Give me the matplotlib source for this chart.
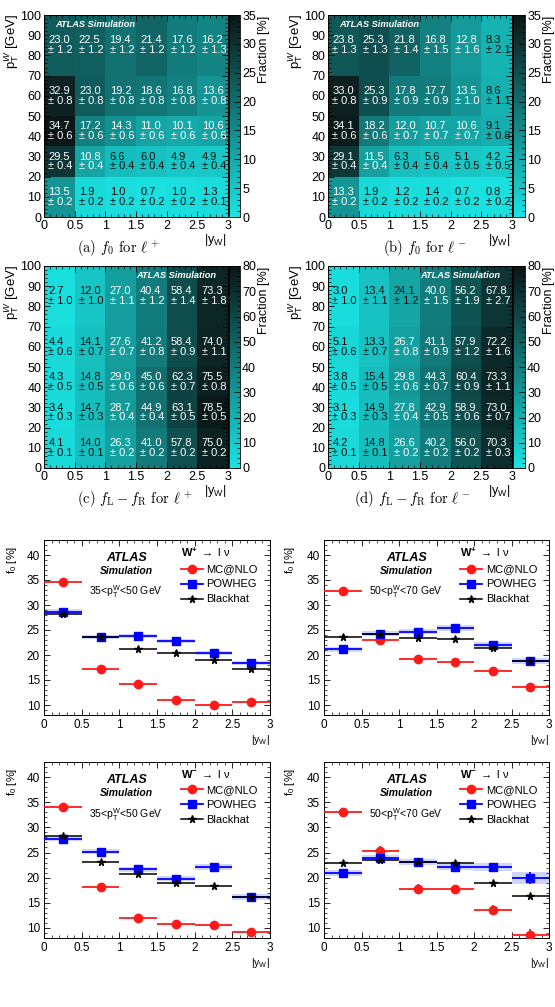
import numpy as np
import matplotlib
matplotlib.use("Agg")
import matplotlib.pyplot as plt
from matplotlib.colors import LinearSegmentedColormap
from matplotlib.ticker import MultipleLocator, FuncFormatter
from matplotlib.lines import Line2D

plt.rcParams['font.family'] = ['Liberation Sans', 'DejaVu Sans']
plt.rcParams['mathtext.fontset'] = 'custom'
plt.rcParams['mathtext.rm'] = 'Liberation Sans'
plt.rcParams['mathtext.it'] = 'Liberation Sans:italic'
plt.rcParams['mathtext.bf'] = 'Liberation Sans:bold'

# ---------------- data ----------------
yw_edges = [0, 0.5, 1, 1.5, 2, 2.5, 3]
pt_edges = [0, 20, 35, 50, 70, 100]

# rows: pT bins from bottom to top; columns: |y_W| bins
f0_lplus = [[13.5, 1.9, 1.0, 0.7, 1.0, 1.3],
            [29.5, 10.8, 6.6, 6.0, 4.9, 4.9],
            [34.7, 17.2, 14.3, 11.0, 10.1, 10.6],
            [32.9, 23.0, 19.2, 18.6, 16.8, 13.6],
            [23.0, 22.5, 19.4, 21.4, 17.6, 16.2]]
f0_lplus_err = [[0.2, 0.2, 0.2, 0.2, 0.2, 0.1],
                [0.4, 0.4, 0.4, 0.4, 0.4, 0.4],
                [0.6, 0.6, 0.6, 0.6, 0.6, 0.6],
                [0.8, 0.8, 0.8, 0.8, 0.8, 0.8],
                [1.2, 1.2, 1.2, 1.2, 1.2, 1.3]]

f0_lminus = [[13.3, 1.9, 1.2, 1.4, 0.7, 0.8],
             [29.1, 11.5, 6.3, 5.6, 5.1, 4.2],
             [34.1, 18.2, 12.0, 10.7, 10.6, 9.1],
             [33.0, 25.3, 17.8, 17.7, 13.5, 8.6],
             [23.8, 25.3, 21.8, 16.8, 12.8, 8.3]]
f0_lminus_err = [[0.2, 0.2, 0.2, 0.2, 0.2, 0.2],
                 [0.4, 0.4, 0.4, 0.4, 0.5, 0.5],
                 [0.6, 0.6, 0.7, 0.7, 0.7, 0.8],
                 [0.8, 0.9, 0.9, 0.9, 1.0, 1.1],
                 [1.3, 1.3, 1.4, 1.5, 1.6, 2.1]]

fLR_lplus = [[4.1, 14.0, 26.3, 41.0, 57.8, 75.0],
             [3.4, 14.7, 28.7, 44.9, 63.1, 78.5],
             [4.3, 14.8, 29.0, 45.0, 62.3, 75.5],
             [4.4, 14.1, 27.6, 41.2, 58.4, 74.0],
             [2.7, 12.0, 27.0, 40.4, 58.4, 73.3]]
fLR_lplus_err = [[0.1, 0.1, 0.2, 0.2, 0.2, 0.2],
                 [0.3, 0.3, 0.4, 0.4, 0.5, 0.5],
                 [0.5, 0.5, 0.6, 0.6, 0.7, 0.8],
                 [0.6, 0.7, 0.7, 0.8, 0.9, 1.1],
                 [1.0, 1.0, 1.1, 1.2, 1.4, 1.8]]

fLR_lminus = [[4.2, 14.8, 26.6, 40.2, 56.0, 70.3],
              [3.1, 14.9, 27.8, 42.9, 58.9, 73.0],
              [3.8, 15.4, 29.8, 44.3, 60.4, 73.3],
              [5.1, 13.3, 26.7, 41.1, 57.9, 72.2],
              [3.0, 13.4, 24.1, 40.0, 56.2, 67.8]]
fLR_lminus_err = [[0.1, 0.1, 0.2, 0.2, 0.2, 0.3],
                  [0.3, 0.3, 0.4, 0.5, 0.6, 0.7],
                  [0.5, 0.5, 0.6, 0.7, 0.9, 1.1],
                  [0.6, 0.7, 0.8, 0.9, 1.2, 1.6],
                  [1.0, 1.1, 1.2, 1.5, 1.9, 2.7]]

# f0 comparison panels
mc_wp_35 = [34.7, 17.2, 14.3, 11.0, 10.1, 10.6]
mc_wp_35_err = [0.6, 0.6, 0.6, 0.6, 0.6, 0.6]
pw_wp_35 = [28.7, 23.7, 23.9, 22.8, 20.5, 18.5]
pw_wp_35_err = [0.5, 0.4, 0.4, 0.4, 0.4, 0.4]
bh_wp_35 = [28.3, 23.6, 21.3, 20.5, 19.0, 17.2]
bh_wp_35_err = [0.2, 0.2, 0.2, 0.2, 0.2, 0.2]

mc_wp_50 = [32.9, 23.0, 19.2, 18.6, 16.8, 13.6]
mc_wp_50_err = [0.8, 0.8, 0.8, 0.8, 0.8, 0.8]
pw_wp_50 = [21.2, 24.3, 24.7, 25.5, 22.0, 18.8]
pw_wp_50_err = [0.5, 0.5, 0.5, 0.6, 0.6, 0.6]
bh_wp_50 = [23.7, 24.3, 23.5, 23.3, 21.5, 18.9]
bh_wp_50_err = [0.2, 0.2, 0.2, 0.2, 0.3, 0.3]

mc_wm_35 = [34.1, 18.2, 12.0, 10.7, 10.6, 9.1]
mc_wm_35_err = [0.6, 0.6, 0.7, 0.7, 0.7, 0.8]
pw_wm_35 = [27.7, 25.2, 21.7, 19.8, 22.1, 16.1]
pw_wm_35_err = [0.5, 0.5, 0.5, 0.5, 0.6, 0.6]
bh_wm_35 = [28.2, 23.1, 20.8, 19.0, 18.4, 16.1]
bh_wm_35_err = [0.2, 0.2, 0.2, 0.2, 0.2, 0.2]

mc_wm_50 = [33.0, 25.3, 17.8, 17.7, 13.5, 8.6]
mc_wm_50_err = [0.8, 0.9, 0.9, 0.9, 1.0, 1.1]
pw_wm_50 = [21.0, 23.9, 23.1, 22.2, 22.1, 19.9]
pw_wm_50_err = [0.6, 0.6, 0.6, 0.7, 0.8, 1.2]
bh_wm_50 = [22.9, 23.6, 23.2, 23.0, 18.9, 16.3]
bh_wm_50_err = [0.2, 0.2, 0.2, 0.2, 0.3, 0.3]

# ---------------- layout ----------------
W, H = 555, 1007
fig = plt.figure(figsize=(W / 100, H / 100), dpi=100)


def rect(l, t, r, b):
    return [l / W, 1 - b / H, (r - l) / W, (b - t) / H]


cmap = LinearSegmentedColormap.from_list('atlas_cyan', ['#1ae4e4', '#0b1515'])
fmt_g = FuncFormatter(lambda v, p: '%g' % v)


def heatmap(axr, caxr, vals, errs, vmax, cmaj, cmin, thr, atlas_x, caption, cap_x, frac_x, lab_x):
    ax = fig.add_axes(rect(*axr))
    cax = fig.add_axes(rect(*caxr))
    v = np.array(vals)
    e = np.array(errs)
    mesh = ax.pcolormesh(yw_edges, pt_edges, v, cmap=cmap, vmin=0, vmax=vmax)
    ax.set_xlim(0, 3)
    ax.set_ylim(0, 100)
    xc = 0.5 * (np.array(yw_edges[:-1]) + np.array(yw_edges[1:]))
    yc = 0.5 * (np.array(pt_edges[:-1]) + np.array(pt_edges[1:]))
    for i in range(v.shape[0]):
        for j in range(v.shape[1]):
            col = 'white' if v[i, j] >= thr else '#101010'
            ax.text(xc[j] + 0.02, yc[i], '%.1f\n\u00b1 %.1f' % (v[i, j], e[i, j]),
                    ha='center', va='center', multialignment='left',
                    fontsize=8, color=col, linespacing=0.98)
    ax.text(atlas_x, 95.3, 'ATLAS Simulation', color='white', fontsize=6.7,
            fontweight='bold', fontstyle='italic', ha='left', va='center')
    ax.xaxis.set_major_locator(MultipleLocator(0.5))
    ax.xaxis.set_minor_locator(MultipleLocator(0.1))
    ax.yaxis.set_major_locator(MultipleLocator(10))
    ax.yaxis.set_minor_locator(MultipleLocator(2))
    ax.xaxis.set_major_formatter(fmt_g)
    ax.tick_params(which='both', direction='in', top=True, right=True, labelsize=9, pad=2)
    ax.tick_params(which='major', length=4, width=0.6)
    ax.tick_params(which='minor', length=2, width=0.5)
    for s in ax.spines.values():
        s.set_linewidth(0.7)
    cb = fig.colorbar(mesh, cax=cax)
    cb.outline.set_linewidth(0.6)
    cax.yaxis.set_major_locator(MultipleLocator(cmaj))
    cax.yaxis.set_minor_locator(MultipleLocator(cmin))
    cax.tick_params(which='both', direction='in', right=True, left=False, labelsize=9, pad=1.5)
    cax.tick_params(which='major', length=4, width=0.6)
    cax.tick_params(which='minor', length=2, width=0.5)
    top = axr[1]
    bot = axr[3]
    fig.text(frac_x / W, 1 - (top + 1) / H, 'Fraction [%]', rotation=90, ha='center', va='top', fontsize=9)
    fig.text(lab_x / W, 1 - (top - 1) / H, r'p$_{\mathrm{T}}^{W}$ [GeV]', rotation=90, ha='center', va='top', fontsize=9.5)
    fig.text((axr[2] - 2) / W, 1 - (bot + 23) / H, r'|y$_{\mathrm{W}}$|', ha='right', va='center', fontsize=9)
    fig.text(cap_x / W, 1 - (bot + 31) / H, caption, ha='center', va='center', fontsize=10.5,
             fontfamily='cmr10', math_fontfamily='cm')


heatmap((44, 15, 228, 217), (229, 15, 240, 217), f0_lplus, f0_lplus_err, 35, 5, 1, 10, 0.18,
        r'(a) $f_0$ for $\ell^+$', 118, 264, 12)
heatmap((328, 15, 512, 217), (513, 15, 525, 217), f0_lminus, f0_lminus_err, 35, 5, 1, 10, 0.18,
        r'(b) $f_0$ for $\ell^-$', 425, 549, 296)
heatmap((44, 266, 228, 468), (229, 266, 240, 468), fLR_lplus, fLR_lplus_err, 80, 10, 2, 25, 1.5,
        r'(c) $f_{\rm L}-f_{\rm R}$ for $\ell^+$', 135, 264, 12)
heatmap((328, 266, 512, 468), (513, 266, 525, 468), fLR_lminus, fLR_lminus_err, 80, 10, 2, 25, 1.5,
        r'(d) $f_{\rm L}-f_{\rm R}$ for $\ell^-$', 412, 549, 296)


def f0panel(axr, mc, mce, pw, pwe, bh, bhe, header, ptlab, ylab_x):
    ax = fig.add_axes(rect(*axr))
    xc = 0.5 * (np.array(yw_edges[:-1]) + np.array(yw_edges[1:]))
    xe = 0.5 * (np.array(yw_edges[1:]) - np.array(yw_edges[:-1]))
    pw = np.array(pw)
    pwe = np.array(pwe)
    ax.bar(xc, 2 * pwe, bottom=pw - pwe, width=2 * xe, color='#bcc4ff', alpha=0.7, lw=0, zorder=1)
    ax.errorbar(xc, mc, xerr=xe, yerr=mce, fmt='o', color='#ff1a1a', ms=6, elinewidth=1.3,
                capsize=0, zorder=3)
    ax.errorbar(xc, pw, xerr=xe, yerr=pwe, fmt='s', color='#0000ff', ms=6, elinewidth=1.3,
                capsize=0, zorder=4)
    ax.errorbar(xc, bh, xerr=xe, yerr=bhe, fmt='*', color='black', ms=5.5, elinewidth=1.1,
                capsize=0, zorder=5)
    ax.set_xlim(0, 3)
    ax.set_ylim(8, 43)
    ax.xaxis.set_major_locator(MultipleLocator(0.5))
    ax.xaxis.set_minor_locator(MultipleLocator(0.1))
    ax.yaxis.set_major_locator(MultipleLocator(5))
    ax.yaxis.set_minor_locator(MultipleLocator(1))
    ax.xaxis.set_major_formatter(fmt_g)
    ax.tick_params(which='both', direction='in', top=True, right=True, labelsize=8.5, pad=3)
    ax.tick_params(which='major', length=4, width=0.6)
    ax.tick_params(which='minor', length=2, width=0.5)
    for s in ax.spines.values():
        s.set_linewidth(0.7)
    ax.text(1.1, 39.4, 'ATLAS', fontsize=9, fontweight='bold', fontstyle='italic', ha='center', va='center')
    ax.text(1.1, 36.8, 'Simulation', fontsize=7.5, fontweight='bold', fontstyle='italic', ha='center', va='center')
    ax.text(0.6, 32.6, ptlab, fontsize=7.5, ha='left', va='center')
    handles = [Line2D([], [], color='#ff1a1a', marker='o', ms=6, lw=1.3),
               Line2D([], [], color='#0000ff', marker='s', ms=6, lw=1.3),
               Line2D([], [], color='black', marker='*', ms=5.5, lw=1.1)]
    ax.legend(handles, ['MC@NLO', 'POWHEG', 'Blackhat'], loc='upper left',
              bbox_to_anchor=(0.605, 0.965), frameon=False, fontsize=8,
              title=header, title_fontsize=8, alignment='left',
              handlelength=2.0, handletextpad=0.3, labelspacing=0.45,
              borderpad=0, borderaxespad=0)
    top, bot = axr[1], axr[3]
    fig.text(ylab_x / W, 1 - (top + 6) / H, r'f$_{0}$ [%]', rotation=90, ha='center', va='top', fontsize=8)
    fig.text(axr[2] / W, 1 - (bot + 25) / H, r'|y$_{\mathrm{W}}$|', ha='right', va='center', fontsize=7.5)


hp = r'$\mathbf{W^{+}}$ $\rightarrow$ l ν'
hm = r'$\mathbf{W^{-}}$ $\rightarrow$ l ν'
p35 = r'35<p$_{\mathrm{T}}^{\mathrm{W}}$<50 GeV'
p50 = r'50<p$_{\mathrm{T}}^{\mathrm{W}}$<70 GeV'

f0panel((44, 540, 270, 715), mc_wp_35, mc_wp_35_err, pw_wp_35, pw_wp_35_err, bh_wp_35, bh_wp_35_err, hp, p35, 12)
f0panel((324, 540, 549, 715), mc_wp_50, mc_wp_50_err, pw_wp_50, pw_wp_50_err, bh_wp_50, bh_wp_50_err, hp, p50, 290)
f0panel((44, 762, 270, 938), mc_wm_35, mc_wm_35_err, pw_wm_35, pw_wm_35_err, bh_wm_35, bh_wm_35_err, hm, p35, 12)
f0panel((324, 762, 549, 938), mc_wm_50, mc_wm_50_err, pw_wm_50, pw_wm_50_err, bh_wm_50, bh_wm_50_err, hm, p50, 290)

fig.savefig('out.png', dpi=100)
